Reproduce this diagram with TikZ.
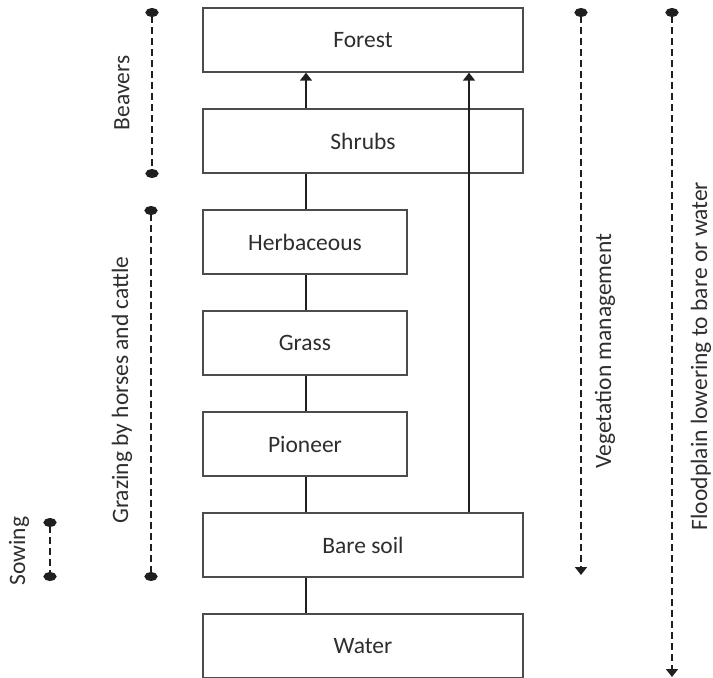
\documentclass[tikz,border=0pt]{standalone}
\usepackage{fontspec}
\setmainfont{Carlito}
\usetikzlibrary{arrows.meta}
\begin{document}
\begin{tikzpicture}[x=1pt,y=-1pt,
  txt/.style={font=\fontsize{23.5}{26}\selectfont,text=black!82},
  stage/.style={draw=black!70,line width=1.4pt,fill=white,minimum height=64pt,inner sep=0pt,txt},
  wide/.style={stage,minimum width=320pt},
  narrow/.style={stage,minimum width=204pt},
  link/.style={line width=1.8pt,draw=black!88},
  flow/.style={link,-{Triangle[width=12pt,length=8pt]}},
  span/.style={line width=1.8pt,draw=black!88,dash pattern=on 7pt off 4pt},
  dotend/.style={{Ellipse[width=13pt,length=9pt]}-{Ellipse[width=13pt,length=9pt]}},
  downend/.style={{Ellipse[width=13pt,length=9pt]}-{Triangle[width=12pt,length=8pt]}},
  lab/.style={rotate=90,inner sep=0pt,txt}]
\useasboundingbox (0,0) rectangle (713,678);

% faint guide line running behind the stage boxes
\draw[black!10,line width=1.4pt] (306,72) -- (306,614);

% succession stages
\node[wide]   (forest) at (363,40)  {Forest};
\node[wide]   (shrubs) at (363,141) {Shrubs};
\node[narrow] (herb)   at (305,242) {Herbaceous};
\node[narrow] (grass)  at (305,343) {Grass};
\node[narrow] (pion)   at (305,444) {Pioneer};
\node[wide]   (bare)   at (363,545) {Bare soil};
\node[wide]   (water)  at (363,646) {Water};

% succession arrows
\draw[link] (water.north -| 306,0) -- (bare.south -| 306,0);
\draw[link] (bare.north -| 306,0) -- (pion.south -| 306,0);
\draw[link] (pion.north -| 306,0) -- (grass.south -| 306,0);
\draw[link] (grass.north -| 306,0) -- (herb.south -| 306,0);
\draw[link] (herb.north -| 306,0) -- (shrubs.south -| 306,0);
\draw[flow] (shrubs.north -| 306,0) -- (forest.south -| 306,0);
\draw[flow] (bare.north -| 469,0) -- (forest.south -| 469,0);

% ranges of the measures
\coordinate (b1) at (152,8);   \coordinate (b2) at (152,178);
\coordinate (g1) at (151,206); \coordinate (g2) at (151,581);
\coordinate (s1) at (50,518);  \coordinate (s2) at (50,581);
\coordinate (v1) at (581,8);   \coordinate (v2) at (581,575);
\coordinate (f1) at (672,8);   \coordinate (f2) at (672,677);
\draw[span,dotend]  (b1) -- (b2);
\draw[span,dotend]  (g1) -- (g2);
\draw[span,dotend]  (s1) -- (s2);
\draw[span,downend] (v1) -- (v2);
\draw[span,downend] (f1) -- (f2);

\node[lab] (beav)  at (122,93)  {Beavers};
\node[lab] (graz)  at (122,390) {Grazing by horses and cattle};
\node[lab] (sow)   at (19,551)  {Sowing};
\node[lab] (veg)   at (605,351) {Vegetation management};
\node[lab] (flood) at (701,356) {Floodplain lowering to bare or water};
\end{tikzpicture}
\end{document}
